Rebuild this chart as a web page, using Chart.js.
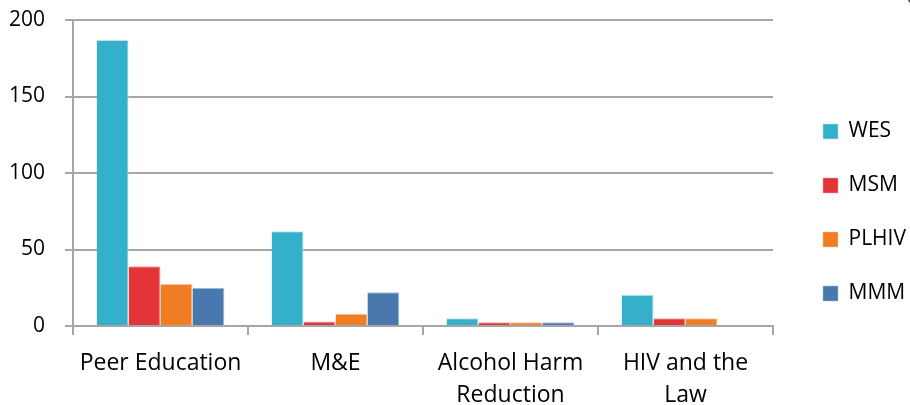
<!DOCTYPE html>
<html>
<head>
<meta charset="utf-8">
<script src="https://cdn.jsdelivr.net/npm/chart.js@4.4.1/dist/chart.umd.min.js"></script>
<style>
  html, body { margin: 0; padding: 0; background: #fff; }
  #wrap { width: 910px; height: 405px; position: relative; }
</style>
</head>
<body>
<div id="wrap"><canvas id="myBarChart"></canvas></div>
<script>
const categories = [['Peer Education'], ['M&E'], ['Alcohol Harm', 'Reduction'], ['HIV and the', 'Law']];
const wes = [187, 62, 5, 20.5];
const msm = [39, 3, 2.5, 5];
const plhiv = [27.5, 8, 2.5, 5];
const mmm = [25, 22, 2.5, null];
const yTicks = [0, 50, 100, 150, 200];

const gridGray = '#A6A6A6';
const fontFamily = '"Open Sans", sans-serif';

// small dark arc in the top-right corner of the slide
const cornerArc = {
    id: 'cornerArc',
    afterDraw(chart) {
        const c = chart.ctx;
        c.save();
        c.strokeStyle = '#1d5866';
        c.lineWidth = 4;
        c.beginPath();
        c.arc(945, -20, 40, Math.PI * 0.55, Math.PI * 0.95);
        c.stroke();
        c.restore();
    }
};

// keep the legend column the same width as on the slide
const legendSpace = {
    id: 'legendSpace',
    afterInit(chart) {
        const lg = chart.legend;
        const fit = lg.fit.bind(lg);
        lg.fit = function () {
            fit();
            this.width = 137;
        };
    },
    afterLayout(chart) {
        chart.legend.left += 17;
        chart.legend.right += 17;
    }
};

const ctx = document.getElementById('myBarChart').getContext('2d');
const myBarChart = new Chart(ctx, {
    type: 'bar',
    data: {
        labels: categories,
        datasets: [
            { label: 'WES', data: wes, backgroundColor: '#35B0CA', borderColor: '#BFE3EC', borderWidth: { top: 1, right: 1 } },
            { label: 'MSM', data: msm, backgroundColor: '#E33537', borderColor: '#F2A3A3', borderWidth: { top: 1, right: 1 } },
            { label: 'PLHIV', data: plhiv, backgroundColor: '#F17D23', borderColor: '#F8C39A', borderWidth: { top: 1, right: 1 } },
            { label: 'MMM', data: mmm, backgroundColor: '#4878AE', borderColor: '#A9BFD8', borderWidth: { top: 1, right: 1 } }
        ]
    },
    options: {
        responsive: true,
        maintainAspectRatio: false,
        animation: false,
        layout: { padding: { top: 20, left: 0, right: 0, bottom: 0 } },
        datasets: {
            bar: { categoryPercentage: 0.73, barPercentage: 1.0 }
        },
        scales: {
            x: {
                afterFit(axis) { axis.height = 79; },
                grid: { display: true, drawOnChartArea: false, drawTicks: true, tickLength: 9, color: gridGray, lineWidth: 2, offset: true },
                border: { color: gridGray, width: 2 },
                ticks: { color: '#000', font: { family: fontFamily, size: 23, lineHeight: 1.37 }, maxRotation: 0, padding: 13 }
            },
            y: {
                min: 0,
                max: 200,
                afterBuildTicks(axis) { axis.ticks = yTicks.map(v => ({ value: v })); },
                afterFit(axis) { axis.width = 73; axis.paddingTop = 0; axis.paddingBottom = 0; },
                grid: { color: gridGray, lineWidth: 2, tickLength: 8 },
                border: { color: gridGray, width: 2 },
                ticks: { color: '#000', font: { family: fontFamily, size: 21 }, padding: 20 }
            }
        },
        plugins: {
            legend: {
                position: 'right',
                align: 'center',
                labels: {
                    color: '#000',
                    font: { family: fontFamily, size: 21 },
                    boxWidth: 15,
                    boxHeight: 15,
                    padding: 33
                }
            },
            tooltip: { enabled: false }
        }
    },
    plugins: [cornerArc, legendSpace]
});
</script>
</body>
</html>
